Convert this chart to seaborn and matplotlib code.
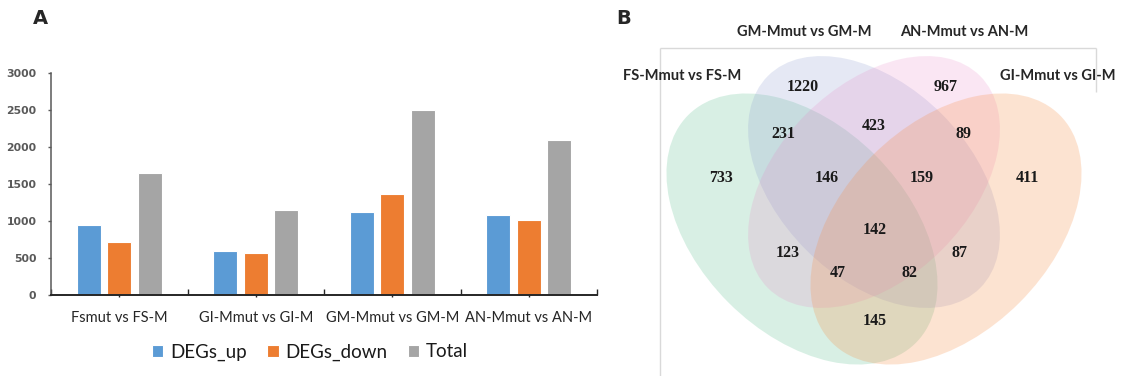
"""
DEG counts per comparison (bar chart) and overlap of the four DEG sets (Venn)
"""
import numpy as np
import pandas as pd
import matplotlib
matplotlib.use('Agg')
import matplotlib.pyplot as plt
from matplotlib.patches import Ellipse
import seaborn as sns

# ---- data -------------------------------------------------------------
comparisons = ['Fsmut vs FS-M', 'GI-Mmut vs GI-M', 'GM-Mmut vs GM-M', 'AN-Mmut vs AN-M']
series = ['DEGs_up', 'DEGs_down', 'Total']
degs_up = [945, 594, 1120, 1075]
degs_down = [715, 566, 1362, 1016]
degs_total = [1650, 1152, 2495, 2090]
y_ticks = [0, 500, 1000, 1500, 2000, 2500, 3000]

venn_sets = ['FS-Mmut vs FS-M', 'GM-Mmut vs GM-M', 'AN-Mmut vs AN-M', 'GI-Mmut vs GI-M']
# regions: FS, GM, AN, GI, FS&GM, GM&AN, AN&GI, FS&GM&AN, GM&AN&GI,
#          all, FS&AN, GM&GI, FS&AN&GI, FS&GM&GI, FS&GI
venn_counts = [733, 1220, 967, 411, 231, 423, 89, 146, 159, 142, 123, 87, 47, 82, 145]

# ---- style ------------------------------------------------------------
sns.set_theme(style='white')
plt.rcParams['font.family'] = ['Lato', 'DejaVu Sans']

bar_colors = ['#5B9BD5', '#ED7D31', '#A5A5A5']

W, H = 1127, 376
fig = plt.figure(figsize=(W / 100, H / 100), dpi=100)

# ---- panel A: bar chart -----------------------------------------------
df = pd.DataFrame({
    'comparison': np.repeat(comparisons, len(series)),
    'series': series * len(comparisons),
    'count': np.ravel(np.column_stack([degs_up, degs_down, degs_total])),
})

ax = fig.add_axes([51 / W, 1 - 295 / H, 546 / W, (295 - 72.7) / H])
sns.barplot(data=df, x='comparison', y='count', hue='series', order=comparisons,
            hue_order=series, palette=bar_colors, width=0.67, gap=0.2,
            errorbar=None, edgecolor='white', linewidth=0.8, saturation=1, ax=ax)

ax.set_ylim(0, 3000)
ax.set_xlim(-0.5, len(comparisons) - 0.5)
ax.set_yticks(y_ticks)
ax.set_yticklabels([str(v) for v in y_ticks], fontsize=7.8, fontweight='bold',
                   color='#595959', family=['DejaVu Sans'])
ax.set_xlabel('')
ax.set_ylabel('')
ax.tick_params(axis='x', labelsize=10.5, labelcolor='#262626', direction='inout',
               length=3.5, width=1, color='#262626', pad=10, bottom=True)
ax.tick_params(axis='y', direction='out', length=2.5, width=1, color='#595959',
               pad=8, left=True)
ax.set_xticks(np.arange(len(comparisons) + 1) - 0.5, minor=True)
ax.tick_params(axis='x', which='minor', direction='in', length=4, width=1,
               color='#262626', bottom=True)
sns.despine(ax=ax)
ax.spines['bottom'].set_color('#262626')
ax.spines['bottom'].set_linewidth(1.4)
ax.spines['left'].set_color('#595959')
ax.spines['left'].set_linewidth(1.1)

handles, labels = ax.get_legend_handles_labels()
ax.get_legend().remove()
fig.legend(handles, labels, loc='center', bbox_to_anchor=(310 / W, 1 - 352 / H),
           ncol=3, frameon=False, fontsize=13.5, handlelength=0.6, handleheight=0.6,
           handletextpad=0.35, columnspacing=1.1, labelcolor='#1a1a1a')

fig.text(40 / W, 1 - 19 / H, 'A', fontsize=14, fontweight='bold', ha='center',
         va='center', family=['DejaVu Sans'])

# ---- panel B: four-set Venn -------------------------------------------
axv = fig.add_axes([600 / W, 0, (W - 600) / W, 1])
axv.set_xlim(600, W)
axv.set_ylim(H, 0)
axv.axis('off')

# frame around the venn picture
frame_kw = dict(color='#d9d9d9', lw=1, solid_capstyle='butt')
axv.plot([660, 1096], [47.7, 47.7], **frame_kw)
axv.plot([660, 660], [47.7, H], **frame_kw)
axv.plot([1096, 1096], [47.7, 92], **frame_kw)

ellipses = [
    # center, width, height, angle, colour, alpha  (FS, GM, AN, GI)
    ((802, 229), 322, 208, 45, '#3CB37A', 0.20),
    ((874, 182), 300, 192, 45, '#8F9FD0', 0.23),
    ((874, 182), 300, 192, -45, '#E87FC4', 0.19),
    ((946, 229), 322, 208, -45, '#F7904A', 0.25),
]
for (c, w, h, ang, col, a) in ellipses:
    axv.add_patch(Ellipse(c, w, h, angle=ang, facecolor=col, alpha=a,
                          edgecolor='none'))

set_label_pos = [(682, 76), (804, 32), (964, 32), (1058, 76)]
for name, (x, y) in zip(venn_sets, set_label_pos):
    axv.text(x, y, name, fontsize=10.5, fontweight='bold', ha='center',
             va='center', color='#262626')

count_pos = [(721, 178), (803, 87), (946, 87), (1027, 178), (783, 134),
             (874, 126), (964, 134), (827, 178), (922, 178), (875, 230),
             (788, 253), (960, 253), (838, 273), (910, 273), (875, 321)]
for n, (x, y) in zip(venn_counts, count_pos):
    axv.text(x, y, str(n), fontsize=11.5, fontweight='bold', ha='center',
             va='center', color='#1a1a1a', family=['Liberation Serif'])

fig.text(624 / W, 1 - 19 / H, 'B', fontsize=14, fontweight='bold', ha='center',
         va='center', family=['DejaVu Sans'])

fig.savefig('out.png', dpi=100)
